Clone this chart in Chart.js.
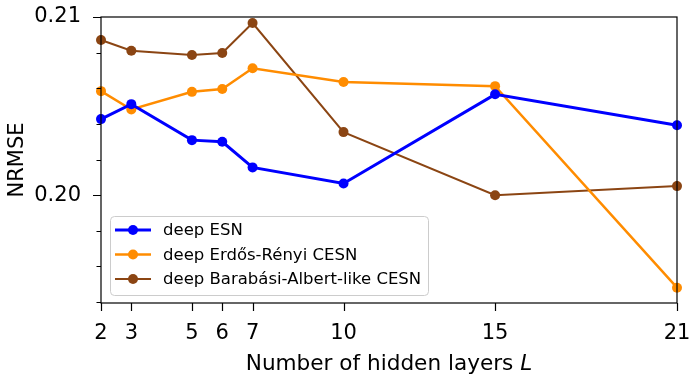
<!DOCTYPE html>
<html lang="en">
  <head>
    <meta charset="utf-8" />
    <title>NRMSE vs hidden layers</title>
    <style>
      * {
        margin: 0;
        padding: 0;
      }
      body {
        background: white;
      }
      .chartBox {
        width: 691px;
        height: 376px;
      }
    </style>
  </head>
  <body>
    <div class="chartBox">
      <canvas id="myChart"></canvas>
    </div>

    <script src="https://cdn.jsdelivr.net/npm/chart.js@4"></script>

    <script>
      // data block
      const layers = [2, 3, 5, 6, 7, 10, 15, 21];
      const esn = [0.20427, 0.20511, 0.20309, 0.203, 0.20156, 0.20066, 0.20566, 0.20393];
      const erdosRenyi = [0.20584, 0.20481, 0.2058, 0.20596, 0.20712, 0.20635, 0.20612, 0.19481];
      const barabasi = [0.20871, 0.20811, 0.20787, 0.20798, 0.20966, 0.20354, 0.2, 0.20051];

      const xTicks = [2, 3, 5, 6, 7, 10, 15, 21];
      const yMajorTicks = [0.2, 0.21];
      const yMinorTicks = [0.194, 0.196, 0.198, 0.202, 0.204, 0.206, 0.208];

      const seriesNames = ["deep ESN", "deep Erdős-Rényi CESN", "deep Barabási-Albert-like CESN"];
      const colors = ["#0000ff", "#ff8c00", "#8b4513"];
      const widths = [3, 2.5, 2];

      const FONT = "'DejaVu Sans', sans-serif";

      const toPoints = (arr) => arr.map((v, i) => ({ x: layers[i], y: v }));

      const data = {
        datasets: [esn, erdosRenyi, barabasi].map((arr, i) => ({
          label: seriesNames[i],
          data: toPoints(arr),
          borderColor: colors[i],
          backgroundColor: colors[i],
          borderWidth: widths[i],
          pointRadius: 5,
          pointHoverRadius: 5,
          pointBorderWidth: 0,
          tension: 0,
          clip: false,
        })),
      };

      // axes frame, tick marks, x title and legend
      const decorations = {
        id: "decorations",
        afterDraw(chart) {
          const ctx = chart.ctx;
          const { left, right, top, bottom } = chart.chartArea;
          const x = chart.scales.x;
          const y = chart.scales.y;
          ctx.save();
          ctx.strokeStyle = "#000";
          ctx.lineWidth = 1.2;
          ctx.strokeRect(left, top, right - left, bottom - top);

          ctx.beginPath();
          xTicks.forEach((t) => {
            const px = Math.round(x.getPixelForValue(t)) + 0.5;
            ctx.moveTo(px, bottom);
            ctx.lineTo(px, bottom + 8);
          });
          yMajorTicks.forEach((t) => {
            const py = Math.round(y.getPixelForValue(t)) + 0.5;
            ctx.moveTo(left, py);
            ctx.lineTo(left - 8, py);
          });
          yMinorTicks.forEach((t) => {
            const py = Math.round(y.getPixelForValue(t)) + 0.5;
            ctx.moveTo(left, py);
            ctx.lineTo(left - 4.5, py);
          });
          ctx.stroke();

          // x axis title with italic L
          const part1 = "Number of hidden layers ";
          const part2 = "L";
          ctx.fillStyle = "#000";
          ctx.textBaseline = "alphabetic";
          ctx.font = "21.6px " + FONT;
          const w1 = ctx.measureText(part1).width;
          ctx.font = "italic 21.6px " + FONT;
          const w2 = ctx.measureText(part2).width;
          let tx = (left + right) / 2 - (w1 + w2) / 2;
          ctx.font = "21.6px " + FONT;
          ctx.fillText(part1, tx, 370);
          ctx.font = "italic 21.6px " + FONT;
          ctx.fillText(part2, tx + w1, 370);

          // legend
          const lx = 110, ly = 216, lw = 318, lh = 79;
          ctx.beginPath();
          ctx.roundRect(lx + 0.5, ly + 0.5, lw, lh, 4);
          ctx.fillStyle = "rgba(255,255,255,0.8)";
          ctx.fill();
          ctx.strokeStyle = "#cccccc";
          ctx.lineWidth = 1;
          ctx.stroke();
          ctx.font = "16.5px " + FONT;
          ctx.textBaseline = "middle";
          chart.data.datasets.forEach((ds, i) => {
            const ry = 230 + i * 24.5;
            ctx.strokeStyle = ds.borderColor;
            ctx.lineWidth = ds.borderWidth;
            ctx.beginPath();
            ctx.moveTo(115, ry);
            ctx.lineTo(151, ry);
            ctx.stroke();
            ctx.fillStyle = ds.borderColor;
            ctx.beginPath();
            ctx.arc(133, ry, 5, 0, Math.PI * 2);
            ctx.fill();
            ctx.fillStyle = "#000";
            ctx.fillText(ds.label, 163, ry + 1);
          });
          ctx.restore();
        },
      };

      // config block
      const config = {
        type: "line",
        data: data,
        options: {
          responsive: true,
          maintainAspectRatio: false,
          animation: false,
          layout: {
            padding: 0,
          },
          plugins: {
            legend: { display: false },
            tooltip: { enabled: false },
          },
          scales: {
            x: {
              type: "linear",
              min: 2,
              max: 21,
              afterBuildTicks: (scale) => {
                scale.ticks = xTicks.map((v) => ({ value: v }));
              },
              afterFit: (scale) => {
                scale.height = 73;
                scale.paddingLeft = 0;
                scale.paddingRight = 14;
              },
              grid: { display: false, drawTicks: false },
              border: { display: false },
              ticks: {
                autoSkip: false,
                maxRotation: 0,
                padding: 18,
                color: "#000",
                font: { family: FONT, size: 21 },
              },
            },
            y: {
              type: "linear",
              min: 0.19395,
              max: 0.21,
              afterBuildTicks: (scale) => {
                scale.ticks = yMajorTicks.map((v) => ({ value: v }));
              },
              afterFit: (scale) => {
                scale.width = 101;
                scale.paddingTop = 17;
                scale.paddingBottom = 0;
              },
              grid: { display: false, drawTicks: false },
              border: { display: false },
              title: {
                display: true,
                text: "NRMSE",
                color: "#000",
                font: { family: FONT, size: 21 },
                padding: { top: 5, bottom: 0 },
              },
              ticks: {
                padding: 20,
                color: "#000",
                font: { family: FONT, size: 21 },
                callback: (v) => v.toFixed(2),
              },
            },
          },
        },
        plugins: [decorations],
      };

      // init render block
      const myChart = new Chart(document.getElementById("myChart"), config);
    </script>
  </body>
</html>
